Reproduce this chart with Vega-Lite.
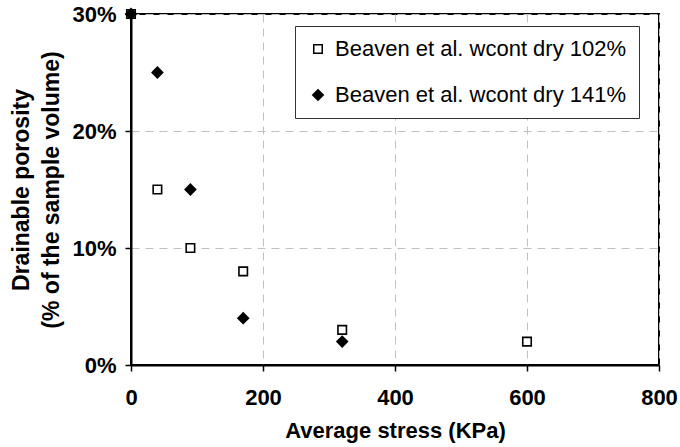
{
  "$schema": "https://vega.github.io/schema/vega-lite/v6.json",
  "autosize": "none",
  "width": 528,
  "height": 351,
  "padding": {"left": 131, "top": 14, "right": 21, "bottom": 82},
  "background": "white",
  "config": {
    "font": "Liberation Sans",
    "view": {"stroke": "black", "strokeWidth": 2},
    "axis": {
      "domainColor": "black",
      "domainWidth": 2,
      "tickColor": "black",
      "tickWidth": 1.5,
      "tickSize": 6,
      "labelFont": "Liberation Sans",
      "labelFontWeight": "bold",
      "labelFontSize": 22,
      "labelColor": "black",
      "labelOverlap": false,
      "labelFlush": false,
      "titleFont": "Liberation Sans",
      "titleFontWeight": "bold",
      "titleFontSize": 22,
      "titleColor": "black",
      "gridColor": "#c0c0c0",
      "gridDash": [8, 6],
      "gridWidth": 1
    }
  },
  "data": {
    "values": [
      {"stress": 0, "porosity": 0.30, "series": "Beaven et al. wcont dry 102%"},
      {"stress": 40, "porosity": 0.15, "series": "Beaven et al. wcont dry 102%"},
      {"stress": 90, "porosity": 0.10, "series": "Beaven et al. wcont dry 102%"},
      {"stress": 170, "porosity": 0.08, "series": "Beaven et al. wcont dry 102%"},
      {"stress": 320, "porosity": 0.03, "series": "Beaven et al. wcont dry 102%"},
      {"stress": 600, "porosity": 0.02, "series": "Beaven et al. wcont dry 102%"},
      {"stress": 0, "porosity": 0.30, "series": "Beaven et al. wcont dry 141%"},
      {"stress": 40, "porosity": 0.25, "series": "Beaven et al. wcont dry 141%"},
      {"stress": 90, "porosity": 0.15, "series": "Beaven et al. wcont dry 141%"},
      {"stress": 170, "porosity": 0.04, "series": "Beaven et al. wcont dry 141%"},
      {"stress": 320, "porosity": 0.02, "series": "Beaven et al. wcont dry 141%"}
    ]
  },
  "mark": {"type": "point", "filled": true, "stroke": "black", "strokeWidth": 1.6, "opacity": 1, "clip": false},
  "encoding": {
    "x": {
      "field": "stress",
      "type": "quantitative",
      "scale": {"domain": [0, 800], "nice": false, "zero": false},
      "axis": {"values": [0, 200, 400, 600, 800], "title": "Average stress (KPa)", "labelPadding": 16, "titlePadding": 12, "grid": true}
    },
    "y": {
      "field": "porosity",
      "type": "quantitative",
      "scale": {"domain": [0, 0.3], "nice": false},
      "axis": {"values": [0, 0.1, 0.2, 0.3], "format": ".0%", "title": ["Drainable porosity", "(% of the sample volume)"], "titleFontSize": 23, "titleLineHeight": 30, "labelPadding": 9, "titlePadding": 8, "grid": true}
    },
    "shape": {
      "field": "series",
      "type": "nominal",
      "scale": {"domain": ["Beaven et al. wcont dry 102%", "Beaven et al. wcont dry 141%"], "range": ["square", "diamond"]},
      "legend": {
        "title": null,
        "orient": "none",
        "legendX": 164,
        "legendY": 12,
        "labelFontSize": 22,
        "labelFont": "Liberation Sans",
        "labelColor": "black",
        "labelLimit": 500,
        "strokeColor": "#333333",
        "fillColor": "white",
        "padding": 12,
        "rowPadding": 24,
        "symbolStrokeColor": "black",
        "symbolStrokeWidth": 1.5,
        "symbolOffset": 0,
        "labelOffset": 6
      }
    },
    "fill": {
      "field": "series",
      "type": "nominal",
      "scale": {"domain": ["Beaven et al. wcont dry 102%", "Beaven et al. wcont dry 141%"], "range": ["white", "black"]}
    },
    "size": {
      "field": "series",
      "type": "nominal",
      "scale": {"domain": ["Beaven et al. wcont dry 102%", "Beaven et al. wcont dry 141%"], "range": [72, 110]}
    }
  }
}
